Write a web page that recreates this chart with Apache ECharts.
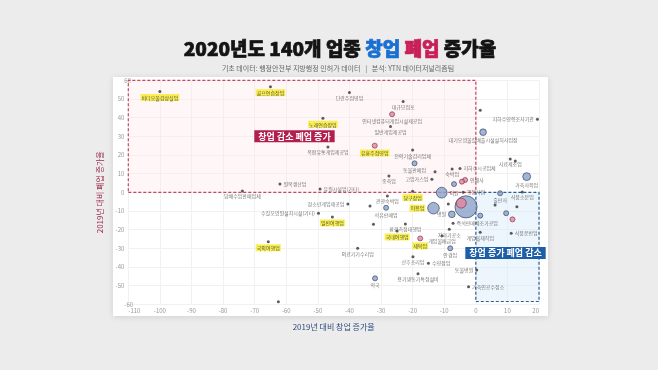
<!DOCTYPE html>
<html><head><meta charset="utf-8">
<script src="https://cdn.jsdelivr.net/npm/echarts@6/dist/echarts.min.js"></script>
<style>html,body{margin:0;padding:0;background:#ececec;} #c{width:658px;height:370px;}</style>
</head><body><div id="c"></div>
<script>
// ---- data ----
const names = ['비디오물감상실업','골프연습장업','단란주점영업','대규모점포','인터넷컴퓨터게임시설제공업','노래연습장업','일반게임제공업','복합유통게임제공업','유흥주점영업','전력기술감리업체',
 '동물판매업','종축업','고압가스업','숙박업','지하수시공업체','인쇄사','','원목생산업','유원시설업(기타)','담배수입판매업체',
 '관광숙박업','당구장업','의원','행정사업','청소년게임제공업','석유판매업','이용업','','','병원',
 '수질오염원설치시설(기타)','일반여행업','즉석판매제조가공업','환경측정대행업','치과기공소','국내여행업','게임물배급업','게임물제작업','세탁업','국외여행업',
 '의료기기수리업','안경업','산후조리업','수영장업','동물병원','용기냉동기특정설비','약국','가축인공수정소','','출판사',
 '식품소분업','','','','','식품운반업','가축사육업','사료제조업','','지하수영향조사기관',
 '','대기오염물질배출시설설치사업장','','','','','',''];
const openRate = [-100,-65,-40,-23,-26.5,-48.4,-27,-46.8,-32,-20,
 -19.4,-27.5,-13.9,-7.5,-5,-3.4,-4.4,-62,-49.3,-73.9,
 -28,-20,-10.8,-4,-40.5,-28.4,-13.4,-3.1,-4.6,-7.6,
 -49.8,-45.4,-7.2,-22.3,-8.4,-24.9,-10.7,1.4,-17.6,-65.7,
 -37.4,-8.1,-19.9,-15,0.3,-18.3,-31.9,-2.3,-62.5,7.7,
 14.7,9.6,11.6,13,6.1,11.2,16.1,10.9,12.5,19.5,
 1.4,2.3,-33.5,-32.4,-8.7,-6.9,1.4,-12.9];
const closeRate = [54,56.6,53.4,48.6,41.8,39.7,35.2,24.3,25,22.6,
 15.5,8.7,7,12.5,12.8,6.6,5.7,4.4,1.8,0.7,
 -2,0.5,-0.2,0,-6.3,-8.3,-8.5,-7.8,-5.8,-11.8,
 -11.2,-13.2,-16.6,-17,-19.8,-20.7,-23.3,-21.4,-24.7,-26.5,
 -30,-30,-34.5,-38,-41.6,-43.6,-46.1,-50.6,-58.6,-0.5,
 0.2,-11.2,-14.5,-7.7,-6.8,-22,8.4,17.8,16.8,39.1,
 44,32.2,-7.4,-17.1,-6.3,4.4,-12.5,11];
// relative business volume (0 = very small)
const volume = [0,0,0,0,1,0,0,0,1,0,
 1,0,0,0,0,1,1,0,0,0,
 0,0,6,0,0,1,7,28,5,2,
 0,0,0,0,0,0,0,0,1,0,
 0,1,0,0,0,0,1,0,0,1,
 0,1,1,0,0,0,3,0,0,0,
 0,2,0,0,0,1,1,0];
// 0 = small dot, 1 = blue bubble, 2 = pink bubble
const tone = [0,0,0,0,2,0,0,0,2,0,
 1,0,0,0,0,2,2,0,0,0,
 0,0,1,0,0,1,1,1,2,1,
 0,0,0,0,0,0,0,0,2,0,
 0,1,0,0,0,0,1,0,0,1,
 0,1,2,0,0,0,1,0,0,0,
 0,1,0,0,0,1,1,0];
const highlighted = ['비디오물감상실업','골프연습장업','노래연습장업','유흥주점영업','당구장업','이용업','일반여행업','국외여행업','국내여행업','세탁업'];
const xTicks = {min:-110, max:20, step:10};
const yTicks = {min:-60, max:60, step:10};

// ---- layout (not data) ----
const labelSide = {'고압가스업':'left','지하수시공업체':'right','인쇄사':'right','원목생산업':'right','유원시설업(기타)':'right',
 '의원':'right','행정사업':'right','청소년게임제공업':'left','이용업':'left','병원':'left','수질오염원설치시설(기타)':'left',
 '즉석판매제조가공업':'right','수영장업':'right','동물병원':'left','가축인공수정소':'right','식품운반업':'right','지하수영향조사기관':'left'};
const FONT = "'Noto Sans CJK KR','Noto Sans',sans-serif";
const sizeOf = v => v > 0 ? 1 + 4*Math.sqrt(v) : 3;

function buildItems(t){
  const idx = names.map((n,i)=>i).filter(i=>tone[i]===t);
  idx.sort((a,b)=>volume[b]-volume[a]);
  return idx.map(i=>{
    const hl = highlighted.includes(names[i]);
    const side = labelSide[names[i]] || 'bottom';
    return {name:names[i], value:[openRate[i], closeRate[i], volume[i]], symbolSize:sizeOf(volume[i]),
      label:{show:!!names[i], position:side, distance: side==='bottom'?1:2,
        backgroundColor: hl?'#f7ec2c':'transparent', padding: hl?[1,1,0,1]:0, color: hl?'#333':'#555'}};
  });
}
const labelBase = {fontSize:5, fontFamily:FONT, formatter:'{b}', lineHeight:6};
const titleStyle = (c)=>({fontSize:19, fontWeight:900, color:c, fontFamily:FONT, textBorderColor:c, textBorderWidth:0.7});

const chart = echarts.init(document.getElementById('c'));
chart.setOption({
  backgroundColor:'#ececec',
  animation:false,
  graphic:[{type:'rect', z:-10, shape:{x:113,y:77,width:435,height:239},
    style:{fill:'#ffffff', shadowBlur:6, shadowColor:'rgba(0,0,0,0.12)', shadowOffsetY:1}}],
  title:[{
    text:'2020년도 140개 업종 {b|창업} {r|폐업} 증가율', left:335, top:34, textAlign:'center',
    textStyle:Object.assign(titleStyle('#141414'), {rich:{b:titleStyle('#1a6fd2'), r:titleStyle('#c81f58')}})
  },{
    text:'기초 데이터: 행정안전부 지방행정 인허가 데이터   |   분석: YTN 데이터저널리즘팀', left:333, top:60, textAlign:'center',
    textStyle:{fontSize:7, fontWeight:'normal', color:'#666', fontFamily:FONT}
  }],
  grid:{left:128.3, right:119, top:80.3, bottom:65.7},
  xAxis:{type:'value', min:xTicks.min, max:xTicks.max, interval:xTicks.step,
    name:'2019년 대비 창업 증가율', nameLocation:'middle', nameGap:19,
    nameTextStyle:{fontSize:8, color:'#2f4c80', fontFamily:FONT},
    axisLine:{show:false}, axisTick:{show:false},
    axisLabel:{fontSize:6, color:'#999', margin:3, alignMinLabel:'left', alignMaxLabel:'right', fontFamily:FONT},
    splitLine:{lineStyle:{color:'#f1f1f1', width:1}}},
  yAxis:{type:'value', min:yTicks.min, max:yTicks.max, interval:yTicks.step,
    name:'2019년 대비 폐업 증가율', nameLocation:'middle', nameGap:24,
    nameTextStyle:{fontSize:8, color:'#9a2a4a', fontFamily:FONT},
    axisLine:{show:false}, axisTick:{show:false},
    axisLabel:{fontSize:6, color:'#999', margin:4, alignMinLabel:'bottom', alignMaxLabel:'top', fontFamily:FONT},
    splitLine:{lineStyle:{color:'#f1f1f1', width:1}}},
  series:[
    {type:'scatter', data:[], z:1, silent:true,
      markArea:{silent:true, data:[
        [{coord:[-110,0], itemStyle:{color:'rgba(252,228,233,0.35)', borderColor:'#c9455f', borderWidth:1.2, borderType:[3,2]}},{coord:[0,60]}],
        [{coord:[0,-58.5], itemStyle:{color:'rgba(214,234,250,0.45)', borderColor:'#2e5d96', borderWidth:1.2, borderType:[3,2]}},{coord:[20,0]}]
      ]},
      markPoint:{symbol:'rect', symbolSize:0, silent:true, data:[
        {coord:[-57.4,30], label:{show:true, formatter:'창업 감소 폐업 증가', position:'inside', fontSize:9, fontWeight:'bold', color:'#fff', backgroundColor:'#b31f4c', padding:[2,4,1,4], fontFamily:FONT}},
        {coord:[9.4,-32.5], label:{show:true, formatter:'창업 증가 폐업 감소', position:'inside', fontSize:9, fontWeight:'bold', color:'#fff', backgroundColor:'#1c5ea8', padding:[2,4,1,4], fontFamily:FONT}}
      ]}},
    {type:'scatter', z:3, data:buildItems(1), itemStyle:{color:'#8ba1c8', borderColor:'#2b3a5e', borderWidth:0.8}, label:labelBase},
    {type:'scatter', z:4, data:buildItems(2), itemStyle:{color:'#e2869d', borderColor:'#7d2a42', borderWidth:0.8}, label:labelBase},
    {type:'scatter', z:5, data:buildItems(0), itemStyle:{color:'#333'}, label:labelBase}
  ]
});
</script></body></html>
